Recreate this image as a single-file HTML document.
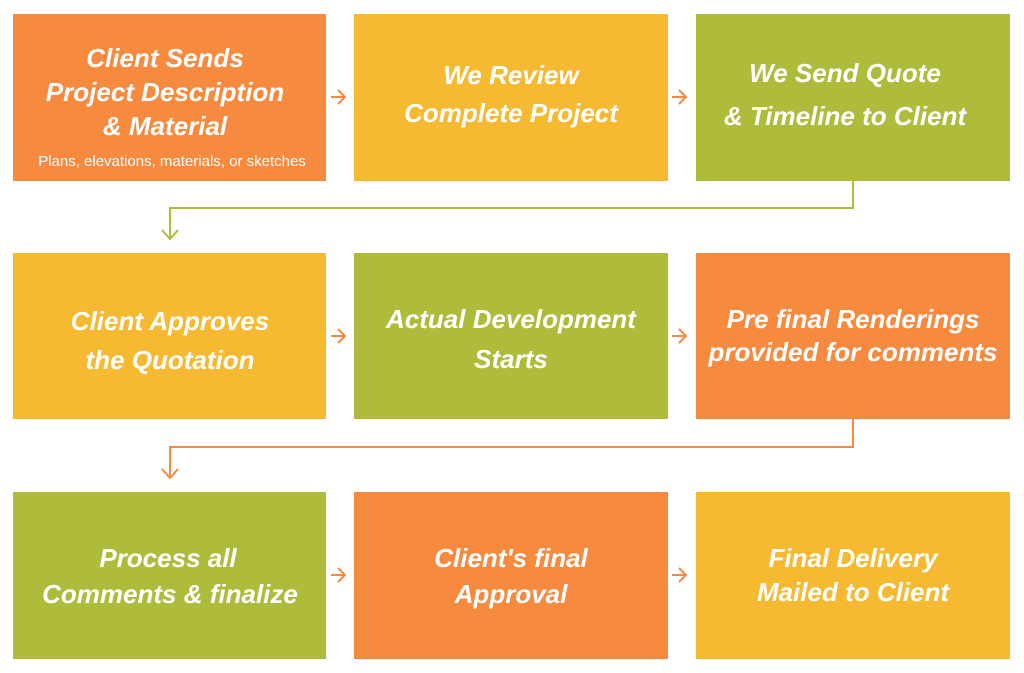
<!DOCTYPE html>
<html><head><meta charset="utf-8"><style>
body{margin:0;background:#fff;width:1024px;height:673px;overflow:hidden}
svg{display:block}
.t{font-family:"Liberation Sans",sans-serif;font-weight:bold;font-style:italic;font-size:26px;fill:#fff;text-anchor:middle}
.s{font-family:"Liberation Sans",sans-serif;font-size:15px;fill:#fff;text-anchor:middle}
</style></head><body>
<svg width="1024" height="673" viewBox="0 0 1024 673">
<g>
<rect x="13" y="14" width="313" height="167" fill="#F68A3F"/>
<rect x="354" y="14" width="314" height="167" fill="#F6B932"/>
<rect x="696" y="14" width="314" height="167" fill="#AFBB3A"/>
<rect x="13" y="253" width="313" height="166" fill="#F6B932"/>
<rect x="354" y="253" width="314" height="166" fill="#AFBB3A"/>
<rect x="696" y="253" width="314" height="166" fill="#F68A3F"/>
<rect x="13" y="492" width="313" height="167" fill="#AFBB3A"/>
<rect x="354" y="492" width="314" height="167" fill="#F68A3F"/>
<rect x="696" y="492" width="314" height="167" fill="#F6B932"/>
</g>
<g fill="none" stroke-width="2">
<polyline points="853,181 853,208 170,208 170,238" stroke="#AFBB3A"/>
<polyline points="162,230 170,239 178,230" stroke="#AFBB3A"/>
<polyline points="853,419 853,447 170,447 170,477" stroke="#F68A3F"/>
<polyline points="162,469 170,478 178,469" stroke="#F68A3F"/>
<g stroke="#F68A3F">
<polyline points="331,97 345,97"/><polyline points="338,90 345,97 338,104"/>
<polyline points="672,97 686,97"/><polyline points="679,90 686,97 679,104"/>
<polyline points="331,336 345,336"/><polyline points="338,329 345,336 338,343"/>
<polyline points="672,336 686,336"/><polyline points="679,329 686,336 679,343"/>
<polyline points="331,575 345,575"/><polyline points="338,568 345,575 338,582"/>
<polyline points="672,575 686,575"/><polyline points="679,568 686,575 679,582"/>
</g>
</g>
<text class="t" x="165" y="67">Client Sends</text>
<text class="t" x="165" y="101">Project Description</text>
<text class="t" x="165" y="135">&amp; Material</text>
<text class="s" x="172" y="166">Plans, elevations, materials, or sketches</text>
<text class="t" x="511" y="84">We Review</text>
<text class="t" x="511" y="122">Complete Project</text>
<text class="t" x="845" y="82">We Send Quote</text>
<text class="t" x="845" y="125">&amp; Timeline to Client</text>
<text class="t" x="170" y="330">Client Approves</text>
<text class="t" x="170" y="369">the Quotation</text>
<text class="t" x="511" y="328">Actual Development</text>
<text class="t" x="511" y="368">Starts</text>
<text class="t" x="853" y="328">Pre final Renderings</text>
<text class="t" x="853" y="361">provided for comments</text>
<text class="t" x="168" y="567">Process all</text>
<text class="t" x="170" y="603">Comments &amp; finalize</text>
<text class="t" x="511" y="567">Client's final</text>
<text class="t" x="511" y="603">Approval</text>
<text class="t" x="853" y="567">Final Delivery</text>
<text class="t" x="853" y="601">Mailed to Client</text>
</svg>
</body></html>
